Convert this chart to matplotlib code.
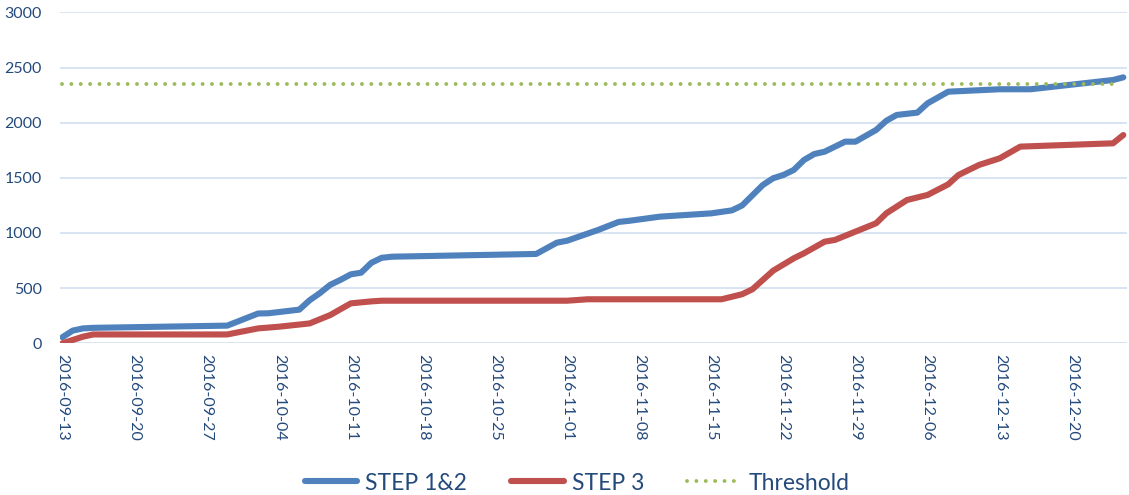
import numpy as np
import matplotlib
matplotlib.use("Agg")
import matplotlib.pyplot as plt
import matplotlib.dates as mdates

START = np.datetime64("2016-09-13")

# days after START
STEP12_DAYS = [0, 1, 2, 3, 16, 19, 20, 23, 24, 25, 26, 27, 28, 29, 30, 31, 32,
               46, 48, 49, 52, 54, 55, 58, 63, 65, 66, 68, 69, 70, 71, 72, 73,
               74, 76, 77, 79, 80, 81, 83, 84, 86, 91, 94, 102, 103]
STEP12_VALUES = [55, 115, 135, 140, 160, 270, 272, 305, 390, 455, 530, 575,
                 625, 640, 730, 775, 785, 810, 912, 930, 1027, 1100, 1110,
                 1148, 1178, 1205, 1250, 1435, 1496, 1526, 1571, 1662, 1716,
                 1737, 1828, 1828, 1934, 2018, 2070, 2091, 2176, 2281, 2303,
                 2303, 2387, 2411]

STEP3_DAYS = [0, 2, 3, 16, 19, 21, 24, 26, 28, 30, 31, 49, 51, 64, 66, 67, 69,
              71, 72, 74, 75, 79, 80, 82, 84, 86, 87, 89, 91, 93, 102, 103]
STEP3_VALUES = [0, 60, 80, 80, 135, 150, 180, 256, 362, 380, 386, 386, 399,
                399, 445, 490, 658, 770, 816, 921, 937, 1088, 1179, 1299,
                1345, 1441, 1526, 1617, 1677, 1783, 1813, 1888]

THRESHOLD_DAYS = [0, 102]
THRESHOLD_VALUES = [2350, 2350]

TICK_DAYS = list(range(0, 101, 7))

BLUE = "#4F81BD"
RED = "#C0504D"
GREEN = "#9BBB59"
GRID = "#D6E2F2"
TEXT = "#244A7C"

plt.rcParams["font.family"] = ["Lato", "DejaVu Sans"]


def to_dates(days):
    return (START + np.array(days, dtype="timedelta64[D]")).astype("datetime64[D]")


fig = plt.figure(figsize=(11.29, 4.95), dpi=100)
ax = fig.add_axes([0.053, 0.3065, 0.945, 0.6685])

ax.plot(to_dates(STEP12_DAYS), STEP12_VALUES, color=BLUE, lw=4.4,
        solid_capstyle="round", solid_joinstyle="round", label="STEP 1&2", zorder=3)
ax.plot(to_dates(STEP3_DAYS), STEP3_VALUES, color=RED, lw=4.4,
        solid_capstyle="round", solid_joinstyle="round", label="STEP 3", zorder=3)
ax.plot(to_dates(THRESHOLD_DAYS), THRESHOLD_VALUES, color=GREEN, lw=2.8,
        linestyle=(0, (0.01, 2.4)), dash_capstyle="round", label="Threshold", zorder=4)

ax.set_ylim(0, 3000)
ax.set_yticks(range(0, 3001, 500))
ax.set_xlim(START - np.timedelta64(6, "h"), START + np.timedelta64(103, "D") + np.timedelta64(8, "h"))

ticks = to_dates(TICK_DAYS)
ax.set_xticks(mdates.date2num(ticks.astype("datetime64[s]").astype(object)))
ax.xaxis.set_major_formatter(mdates.DateFormatter("%Y-%m-%d"))

ax.grid(axis="y", color=GRID, lw=1.3)
ax.set_axisbelow(True)
for s in ax.spines.values():
    s.set_visible(False)
ax.tick_params(axis="both", length=0, colors=TEXT, labelsize=11.5)
ax.tick_params(axis="y", pad=13)
ax.tick_params(axis="x", pad=8)
for lab in ax.get_xticklabels():
    lab.set_rotation(-90)
    lab.set_va("top")
    lab.set_ha("center")

leg = fig.legend(loc="center", bbox_to_anchor=(0.511, 1 - 483 / 495), ncol=3,
                 frameon=False, fontsize=16.5, handlelength=2.3, columnspacing=1.9,
                 handletextpad=0.35)
for t in leg.get_texts():
    t.set_color(TEXT)

fig.savefig("out.png", dpi=100)
